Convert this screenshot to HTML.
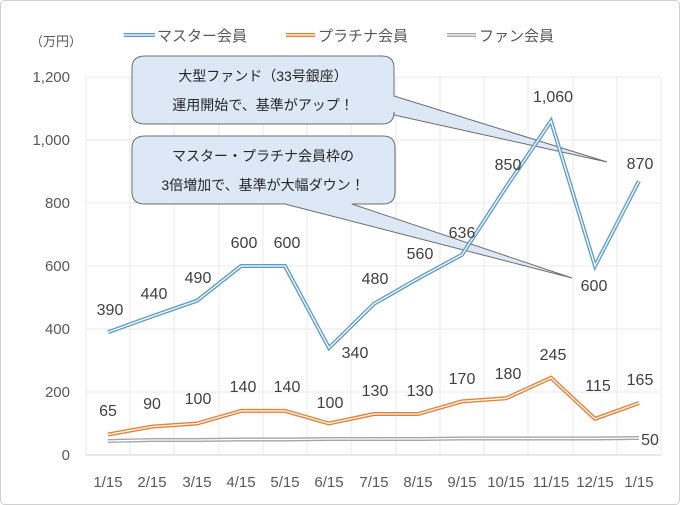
<!DOCTYPE html>
<html><head><meta charset="utf-8"><style>
html,body{margin:0;padding:0;background:#fff}
svg{display:block;font-family:"Liberation Sans","Noto Sans CJK JP",sans-serif}
</style></head><body>
<svg width="680" height="505" viewBox="0 0 680 505" xmlns="http://www.w3.org/2000/svg">
<rect x="0.5" y="0.5" width="679" height="504" rx="4" fill="#fff" stroke="#d0d0d0"/>
<g stroke="#e8e8e8" stroke-width="1">
<line x1="86" y1="77" x2="661" y2="77"/><line x1="86" y1="140" x2="661" y2="140"/><line x1="86" y1="203" x2="661" y2="203"/><line x1="86" y1="266" x2="661" y2="266"/><line x1="86" y1="329" x2="661" y2="329"/><line x1="86" y1="392" x2="661" y2="392"/>
<line x1="86" y1="77" x2="86" y2="455"/><line x1="130" y1="77" x2="130" y2="455"/><line x1="174" y1="77" x2="174" y2="455"/><line x1="219" y1="77" x2="219" y2="455"/><line x1="263" y1="77" x2="263" y2="455"/><line x1="307" y1="77" x2="307" y2="455"/><line x1="351" y1="77" x2="351" y2="455"/><line x1="396" y1="77" x2="396" y2="455"/><line x1="440" y1="77" x2="440" y2="455"/><line x1="484" y1="77" x2="484" y2="455"/><line x1="528" y1="77" x2="528" y2="455"/><line x1="573" y1="77" x2="573" y2="455"/><line x1="617" y1="77" x2="617" y2="455"/><line x1="661" y1="77" x2="661" y2="455"/>
</g>
<line x1="86" y1="455" x2="661" y2="455" stroke="#d0d0d0"/>
<g font-size="15" fill="#595959" text-anchor="end">
<text x="70" y="82">1,200</text><text x="70" y="145">1,000</text><text x="70" y="208">800</text><text x="70" y="271">600</text><text x="70" y="334">400</text><text x="70" y="397">200</text><text x="70" y="460">0</text>
</g>
<text x="30" y="46" font-size="13" fill="#595959">（万円）</text>
<g font-size="15" fill="#595959" text-anchor="middle">
<text x="108" y="487">1/15</text><text x="152" y="487">2/15</text><text x="197" y="487">3/15</text><text x="241" y="487">4/15</text><text x="285" y="487">5/15</text><text x="329" y="487">6/15</text><text x="374" y="487">7/15</text><text x="418" y="487">8/15</text><text x="462" y="487">9/15</text><text x="506" y="487">10/15</text><text x="551" y="487">11/15</text><text x="595" y="487">12/15</text><text x="639" y="487">1/15</text>
</g>
<!-- callouts -->
<path d="M145,56 H382 Q394,56 394,68 V96 L607,162 L394,115 V112 Q394,124 382,124 H145 Q132,124 132,112 V68 Q132,56 145,56 Z" fill="#dce8f5" stroke="#6d6d6d" stroke-width="1"/>
<path d="M145,136 H383 Q395,136 395,148 V192 Q395,204 383,204 H352 L572,278 L285,204 H145 Q132,204 132,192 V148 Q132,136 145,136 Z" fill="#dce8f5" stroke="#6d6d6d" stroke-width="1"/>
<g font-size="14" fill="#262626" text-anchor="middle">
<text x="263" y="81">大型ファンド（33号銀座）</text>
<text x="263" y="110">運用開始で、基準がアップ！</text>
<text x="263" y="161">マスター・プラチナ会員枠の</text>
<text x="263" y="190">3倍増加で、基準が大幅ダウン！</text>
</g>
<!-- series -->
<g fill="none" stroke-linejoin="miter">
<polyline points="108,441 152,440 197,440 241,439.5 285,439.5 329,439 374,439 418,439 462,438.5 506,438.5 551,438.5 595,438.5 639,438" stroke="#a5a5a5" stroke-width="4"/>
<polyline points="108,441 152,440 197,440 241,439.5 285,439.5 329,439 374,439 418,439 462,438.5 506,438.5 551,438.5 595,438.5 639,438" stroke="#fff" stroke-width="1.3"/>
<polyline points="108,434.5 152,426.6 197,423.5 241,410.9 285,410.9 329,423.5 374,414 418,414 462,401.4 506,398.3 551,377.8 595,418.8 639,403" stroke="#ed7d31" stroke-width="4"/>
<polyline points="108,434.5 152,426.6 197,423.5 241,410.9 285,410.9 329,423.5 374,414 418,414 462,401.4 506,398.3 551,377.8 595,418.8 639,403" stroke="#fff" stroke-width="1.3"/>
<polyline points="108,332.2 152,316.4 197,300.7 241,266 285,266 329,347.9 374,303.8 418,278.6 462,254.7 506,187.3 551,121.1 595,266 639,181" stroke="#5b9bd5" stroke-width="4"/>
<polyline points="108,332.2 152,316.4 197,300.7 241,266 285,266 329,347.9 374,303.8 418,278.6 462,254.7 506,187.3 551,121.1 595,266 639,181" stroke="#fff" stroke-width="1.3"/>
</g>
<g font-size="16" fill="#404040" text-anchor="middle">
<text x="110" y="315">390</text><text x="154" y="299">440</text><text x="198" y="283">490</text><text x="244" y="248">600</text><text x="287" y="248">600</text><text x="355" y="358">340</text><text x="375" y="284">480</text><text x="420" y="259">560</text><text x="462" y="238">636</text><text x="508" y="170">850</text><text x="553" y="102">1,060</text><text x="594" y="291">600</text><text x="640" y="169">870</text>
<text x="108" y="416">65</text><text x="152" y="409">90</text><text x="198" y="404">100</text><text x="243" y="392">140</text><text x="287" y="392">140</text><text x="330" y="408">100</text><text x="375" y="396">130</text><text x="420" y="396">130</text><text x="462" y="384">170</text><text x="508" y="379">180</text><text x="553" y="360">245</text><text x="598" y="391">115</text><text x="640" y="385">165</text>
<text x="650" y="445">50</text>
</g>
<!-- legend -->
<g>
<line x1="124" y1="35" x2="155" y2="35" stroke="#5b9bd5" stroke-width="4"/><line x1="124" y1="35" x2="155" y2="35" stroke="#fff" stroke-width="1.3"/>
<line x1="286" y1="35" x2="315" y2="35" stroke="#ed7d31" stroke-width="4"/><line x1="286" y1="35" x2="315" y2="35" stroke="#fff" stroke-width="1.3"/>
<line x1="447" y1="35" x2="476" y2="35" stroke="#a5a5a5" stroke-width="4"/><line x1="447" y1="35" x2="476" y2="35" stroke="#fff" stroke-width="1.3"/>
</g>
<g font-size="15" fill="#595959">
<text x="157" y="41">マスター会員</text><text x="318" y="41">プラチナ会員</text><text x="479" y="41">ファン会員</text>
</g>
</svg>
</body></html>
